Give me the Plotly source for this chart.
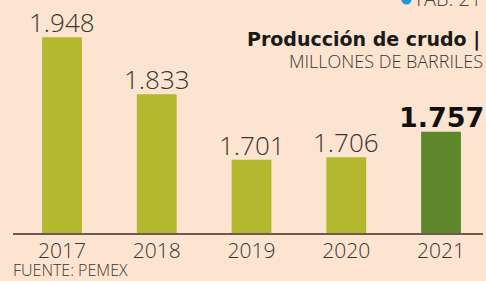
import plotly.graph_objects as go

years = ["2017", "2018", "2019", "2020", "2021"]
values = [1.948, 1.833, 1.701, 1.706, 1.757]
labels = ["1.948", "1.833", "1.701", "1.706", "1.757"]
bar_colors = ["#B3B82E", "#B3B82E", "#B3B82E", "#B3B82E", "#5E862B"]

BG = "#FCE4D0"
THIN = "Open Sans"
fig = go.Figure()
fig.add_trace(go.Bar(x=years, y=values, marker=dict(color=bar_colors, line=dict(width=0)),
                     width=0.42, hoverinfo="skip"))

for i, (v, lab) in enumerate(zip(values, labels)):
    last = i == len(values) - 1
    if not last:
        fig.add_annotation(x=i, y=v, text=lab, showarrow=False, yanchor="bottom", yshift=-5,
                           font=dict(family=THIN, size=26, color="#3a3530", weight=300))
    else:
        fig.add_annotation(x=i, y=v, text="<b>" + lab + "</b>", showarrow=False, yanchor="bottom",
                           yshift=-3,
                           font=dict(family="DejaVu Sans", size=27, color="#111111", weight=700))

fig.add_annotation(xref="paper", yref="paper", x=1.0, y=1.0, xanchor="right", yanchor="top",
                   yshift=-26, xshift=-1,
                   text="<b>Producción de crudo |</b>", showarrow=False,
                   font=dict(family="DejaVu Sans", size=19, color="#1a1a1a", weight=700))
fig.add_annotation(xref="paper", yref="paper", x=1.0, y=1.0, xanchor="right", yanchor="top",
                   yshift=-47, xshift=2, text="MILLONES DE BARRILES", showarrow=False,
                   font=dict(family=THIN, size=18, color="#3a3530", weight=300))
fig.add_annotation(xref="paper", yref="paper", x=1.0, y=1.0, xanchor="right", yanchor="bottom",
                   yshift=-15, xshift=0,
                   text="<span style='color:#1E9BD7;font-size:24px'>●</span>TAB. 21",
                   showarrow=False, font=dict(family=THIN, size=20, color="#4a4540", weight=300))
fig.add_annotation(xref="paper", yref="paper", x=0.0, y=0.0, xanchor="left", yanchor="top",
                   yshift=-24, xshift=-2, text="FUENTE: PEMEX", showarrow=False,
                   font=dict(family=THIN, size=16, color="#3a3530", weight=300))

fig.update_layout(
    width=486, height=281,
    margin=dict(l=13, r=3, t=0, b=48),
    paper_bgcolor=BG, plot_bgcolor=BG,
    showlegend=False,
    xaxis=dict(type="category", range=[-0.517, 4.443], showline=True, linecolor="#6a5a50",
               linewidth=1.5, ticks="", showgrid=False, zeroline=False, ticklabelstandoff=-2,
               tickfont=dict(family=THIN, size=21, color="#3a3530", weight=300)),
    yaxis=dict(range=[1.553, 2.023], visible=False, showgrid=False, zeroline=False),
)

fig.write_html("out.html", config={"displayModeBar": False},
               post_script="document.body.style.margin='0';document.body.style.overflow='hidden';")
